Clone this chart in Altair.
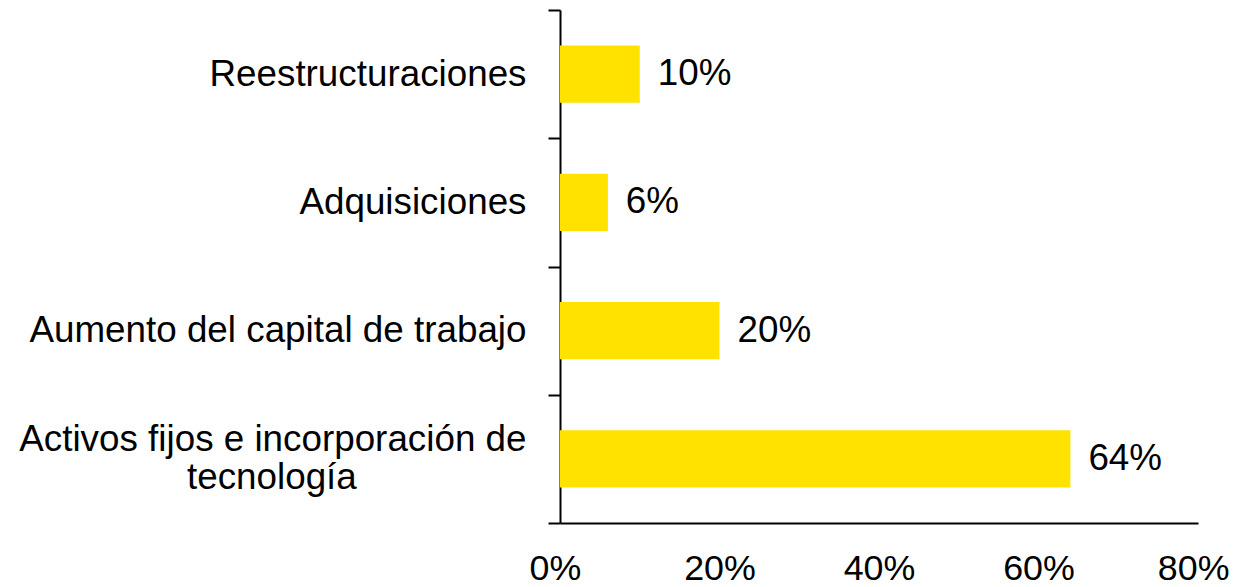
import altair as alt
import pandas as pd

categories = [
    "Reestructuraciones",
    "Adquisiciones",
    "Aumento del capital de trabajo",
    "Activos fijos e incorporación de|tecnología" + "\u00a0" * 16 + "\u2006\u200b",
]
values = [0.10, 0.06, 0.20, 0.64]
x_ticks = [0, 0.2, 0.4, 0.6, 0.8]

df = pd.DataFrame({"cat": categories, "val": values})

FONT = "Liberation Sans"
FS_Y = 36.8
FS_X = 35.8

y_enc = alt.Y(
    "cat:N",
    sort=categories,
    title=None,
    scale=alt.Scale(paddingInner=0, paddingOuter=0),
    axis=alt.Axis(
        labelExpr="split(datum.label, '|')",
        labelFont=FONT,
        labelFontSize=FS_Y,
        labelColor="black",
        labelPadding=22,
        labelLineHeight=38,
        labelLimit=1000,
        labelBaseline={
            "condition": {"test": "indexof(datum.label, '|') >= 0", "value": "line-bottom"},
            "value": "middle",
        },
        tickBand="extent",
        tickSize=12,
        tickColor="black",
        tickWidth=2,
        domainColor="black",
        domainWidth=2,
        grid=False,
    ),
)

x_enc = alt.X(
    "val:Q",
    title=None,
    scale=alt.Scale(domain=[0, 0.8], nice=False),
    axis=alt.Axis(
        values=x_ticks,
        format=".0%",
        labelFont=FONT,
        labelFontSize=FS_X,
        labelColor="black",
        labelFlush=True,
        labelFlushOffset=31,
        labelPadding=28,
        ticks=False,
        tickSize=0,
        domainColor="black",
        domainWidth=2,
        grid=False,
    ),
)

bars = alt.Chart(df).mark_bar(
    color="#FFE200", height=alt.RelativeBandSize(band=0.445)
).encode(x=x_enc, y=y_enc)

text = alt.Chart(df).mark_text(
    align="left", baseline="middle", dx=18, font=FONT, fontSize=FS_Y, color="black"
).encode(x="val:Q", y=alt.Y("cat:N", sort=categories), text=alt.Text("val:Q", format=".0%"))

chart = (
    alt.layer(bars, text)
    .properties(
        width=638,
        height=513,
        autosize=alt.AutoSizeParams(type="none"),
        padding={"left": 552, "top": 2, "right": 32, "bottom": 64},
    )
    .configure(background="white", view=alt.ViewConfig(strokeWidth=0, stroke="transparent"))
)

chart.save("out.html", embed_options={"renderer": "svg", "actions": False})
